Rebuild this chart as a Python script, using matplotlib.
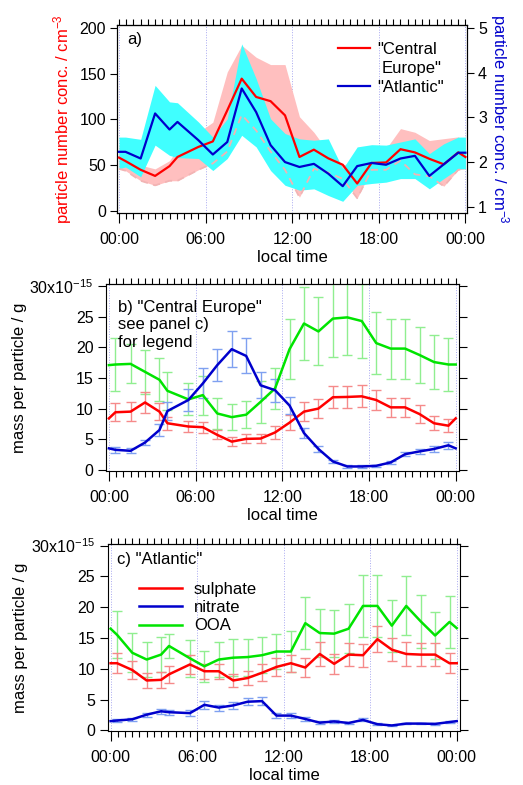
import matplotlib
matplotlib.use('Agg')
import matplotlib.pyplot as plt
import numpy as np
from matplotlib.ticker import MultipleLocator, NullFormatter

plt.rcParams['font.family'] = ['Liberation Sans', 'DejaVu Sans']
plt.rcParams['mathtext.default'] = 'regular'
plt.rcParams['axes.linewidth'] = 0.8

# time of day (hours), with wrap-around points at 0 and 24
hours = np.array([0, 0.45, 1.5, 2.5, 3.5, 4.05, 5.5, 6.5, 7.5, 8.5, 9.5, 10.5, 11.5,
                  12.5, 13.5, 14.5, 15.5, 16.5, 17.5, 18.5, 19.5, 20.5, 21.5, 22.5, 23.5, 24])

# panel a: particle number conc. (Central Europe on left axis, Atlantic on right axis)
ce_num = [58.3, 54.5, 45, 38.3, 49, 59, 70, 76, 110, 144.6, 124.6, 120, 104.5,
          59, 67, 57.5, 50.5, 30, 52.5, 53, 67.5, 64, 57, 51, 64, 59]
ce_hi = [71.8, 66, 50, 46, 55, 68, 86, 97, 152, 181, 168, 160, 160,
         103, 86, 64.5, 50, 55, 68, 68, 90, 86, 77, 79, 81, 72]
ce_lo = [46, 44, 33, 28, 33, 33, 45, 52, 65, 105, 88, 65, 45,
         15, 46, 42, 35, 14, 45, 45, 55, 40, 38, 27, 45, 46]
atl_num = [2.23, 2.23, 2.08, 3.09, 2.73, 2.9, 2.49, 2.17, 2.45, 3.65, 3.12, 2.38, 2.0,
           1.89, 1.96, 1.74, 1.46, 1.91, 1.98, 1.94, 2.08, 2.14, 1.69, 1.95, 2.21, 2.21]
atl_hi = [2.56, 2.56, 2.51, 3.72, 3.35, 3.33, 2.9, 2.56, 2.97, 4.65, 3.87, 2.97, 2.64,
          2.52, 2.49, 2.52, 1.85, 2.34, 2.39, 2.38, 2.45, 2.52, 2.19, 2.41, 2.56, 2.56]
atl_lo = [1.85, 1.89, 1.67, 2.38, 2.15, 2.1, 2.08, 1.81, 2.08, 2.6, 2.34, 1.81, 1.48,
          1.37, 1.4, 1.25, 1.12, 1.48, 1.52, 1.55, 1.63, 1.63, 1.4, 1.63, 1.85, 1.85]

# panel b: "Central Europe" mass per particle (x1e-15 g)
ce_so4 = [8.4, 9.4, 9.5, 11.0, 9.5, 7.6, 7.07, 6.96, 5.7, 4.6, 5.05, 5.1, 6.1,
          7.7, 9.5, 10.0, 11.85, 11.9, 12.0, 11.4, 10.2, 10.2, 9.1, 7.6, 7.2, 8.4]
ce_no3 = [3.5, 3.26, 3.1, 4.45, 6.5, 9.6, 11.4, 14.1, 17.1, 19.7, 18.6, 13.8, 13.0,
          10.5, 6.0, 3.4, 1.36, 0.54, 0.54, 0.65, 1.2, 2.55, 3.0, 3.4, 4.0, 3.5]
ce_ooa = [17.1, 17.2, 17.3, 16.0, 14.7, 12.9, 11.5, 12.2, 9.2, 8.6, 9.0, 11.1, 13.3,
          19.7, 23.9, 22.6, 24.7, 24.9, 24.3, 20.7, 19.8, 19.8, 18.75, 17.6, 17.2, 17.2]
# error bars only on the interior points
ce_so4_err = [1.45, 1.5, 1.65, 1.4, 1.1, 0.9, 0.9, 0.75, 0.75, 0.75, 0.8, 1.0,
              1.2, 1.5, 1.5, 1.8, 1.8, 1.8, 1.7, 1.5, 1.55, 1.45, 1.15, 1.1]
ce_no3_err = [0.45, 0.4, 0.45, 0.9, 1.5, 1.75, 2.45, 2.6, 2.95, 2.85, 2.1, 1.9,
              1.4, 0.85, 0.5, 0.3, 0.2, 0.2, 0.2, 0.3, 0.35, 0.35, 0.45, 0.6]
ce_ooa_err = [4.3, 3.2, 3.6, 3.5, 3.1, 2.6, 3.2, 2.6, 2.1, 2.2, 3.4, 3.4,
              4.9, 5.95, 5.55, 6.2, 6.2, 6.1, 5.1, 4.9, 4.9, 4.6, 4.35, 4.25]

# panel c: "Atlantic"
atl_so4 = [10.9, 10.9, 9.8, 8.1, 8.2, 9.1, 10.7, 9.6, 9.6, 8.1, 8.5, 9.35, 10.3,
           10.9, 10.2, 12.4, 10.8, 12.3, 12.2, 14.8, 13.1, 12.4, 12.3, 12.3, 10.9, 10.9]
atl_no3 = [1.5, 1.6, 1.8, 2.55, 3.1, 2.95, 2.8, 4.15, 3.7, 4.05, 4.65, 4.75, 2.4,
           2.4, 1.85, 1.25, 1.45, 1.2, 1.7, 1.0, 0.8, 1.1, 1.1, 1.05, 1.35, 1.5]
atl_ooa = [16.5, 15.5, 12.6, 11.5, 12.3, 13.7, 11.7, 10.4, 11.5, 11.8, 11.9, 12.2, 12.8,
           12.8, 17.4, 15.8, 15.7, 16.5, 20.2, 20.2, 17.0, 20.2, 17.7, 15.4, 17.6, 16.6]
atl_so4_err = [1.6, 1.5, 1.2, 1.3, 1.35, 1.5, 1.2, 1.2, 1.1, 1.2, 1.4, 1.5,
               1.4, 1.55, 1.9, 1.65, 1.9, 1.85, 2.15, 1.9, 2.0, 1.9, 1.9, 1.6]
atl_no3_err = [0.2, 0.2, 0.3, 0.45, 0.4, 0.5, 0.65, 0.5, 0.5, 0.6, 0.7, 0.35,
               0.35, 0.3, 0.2, 0.2, 0.15, 0.25, 0.15, 0.1, 0.1, 0.1, 0.1, 0.2]
atl_ooa_err = [3.8, 3.2, 2.8, 2.9, 2.0, 3.0, 2.5, 2.8, 3.0, 3.0, 2.9, 2.9,
               3.3, 4.25, 3.9, 3.8, 4.0, 5.0, 5.0, 4.2, 4.8, 4.3, 3.8, 4.2]

time_ticks = [0, 6, 12, 18, 24]
time_labels = ['00:00', '06:00', '12:00', '18:00', '00:00']
mass_ticks = [0, 5, 10, 15, 20, 25, 30]
mass_labels = ['0', '5', '10', '15', '20', '25', '30x10$^{-15}$']

RED, BLUE, GREEN = '#ff0000', '#0000cc', '#00e400'
RED_E, BLUE_E, GREEN_E = '#f58a8a', '#7fa0f0', '#90ee90'
FS_TICK, FS_LAB = 11.5, 12


def style_time_axis(ax, xlim):
    ax.set_xlim(*xlim)
    ax.set_xticks(time_ticks)
    ax.set_xticklabels(time_labels)
    ax.xaxis.set_minor_locator(MultipleLocator(0.5))
    ax.tick_params(axis='x', which='major', direction='out', length=7, width=0.8,
                   labelsize=FS_TICK, pad=7)
    ax.tick_params(axis='x', which='minor', direction='out', length=4, width=0.8)
    for h in time_ticks:
        ax.axvline(h, color='#a8a8f0', lw=0.7, ls=':', zorder=0)
    top = ax.secondary_xaxis('top')
    top.set_xticks(np.arange(0, 24.01, 0.5))
    top.xaxis.set_major_formatter(NullFormatter())
    top.tick_params(direction='out', length=4, width=0.8)
    ax.set_xlabel('local time', fontsize=FS_LAB, labelpad=2)


fig = plt.figure(figsize=(5.23, 7.85), dpi=100)

# ---- panel a
axa = fig.add_axes([0.2237, 0.7287, 0.669, 0.2395])
axa2 = axa.twinx()
axa.set_zorder(axa2.get_zorder() + 1)
axa.patch.set_visible(False)
axa.set_ylim(-2.2, 203.3)
axa2.set_ylim(0.859, 5.074)
axa.fill_between(hours, ce_lo, ce_hi, color='#ffbfbf', lw=0, zorder=1)
# cyan band / blue line belong to the right axis; map onto left-axis scale for layering
ya0, ya1 = axa.get_ylim()
yb0, yb1 = axa2.get_ylim()
to_left = lambda v: ya0 + (np.asarray(v) - yb0) * (ya1 - ya0) / (yb1 - yb0)
axa.fill_between(hours, to_left(atl_lo), to_left(atl_hi), color='#40ffff', lw=0, zorder=2)
axa.plot(hours, ce_lo, color='#f2b4b4', lw=1.3, ls=(0, (4, 3)), zorder=3)
axa.plot(hours, ce_num, color=RED, lw=1.6, zorder=5)
axa.plot(hours, to_left(atl_num), color=BLUE, lw=1.6, zorder=5)
style_time_axis(axa, (-0.14, 24.1))
axa.set_yticks([0, 50, 100, 150, 200])
axa.tick_params(axis='y', direction='out', length=5, width=0.8, labelsize=FS_TICK, pad=3)
axa2.set_yticks([1, 2, 3, 4, 5])
axa2.tick_params(axis='y', direction='out', length=5, width=0.8, labelsize=FS_TICK, pad=3)
axa.set_ylabel('particle number conc. / cm$^{-3}$', color=RED, fontsize=FS_LAB, labelpad=4)
axa2.set_ylabel('particle number conc. / cm$^{-3}$', color=BLUE, fontsize=FS_LAB,
                rotation=270, labelpad=17)
axa.text(0.03, 0.925, 'a)', transform=axa.transAxes, fontsize=FS_LAB, va='center')
# legend, drawn by hand so the red key sits on the first text line
for y, c in ((0.88, RED), (0.676, BLUE)):
    axa.plot([0.633, 0.724], [y, y], color=c, lw=1.6, transform=axa.transAxes, zorder=6)
axa.text(0.744, 0.88, '"Central', transform=axa.transAxes, fontsize=FS_LAB, va='center_baseline')
axa.text(0.756, 0.778, 'Europe"', transform=axa.transAxes, fontsize=FS_LAB, va='center_baseline')
axa.text(0.744, 0.676, '"Atlantic"', transform=axa.transAxes, fontsize=FS_LAB, va='center_baseline')


def mass_panel(rect, xlim, ylim, so4, no3, ooa, so4_err, no3_err, ooa_err):
    ax = fig.add_axes(rect)
    for vals, err, c in ((ooa, ooa_err, GREEN_E), (so4, so4_err, RED_E), (no3, no3_err, BLUE_E)):
        ax.errorbar(hours[1:-1], np.asarray(vals)[1:-1], yerr=err, fmt='none',
                    ecolor=c, elinewidth=1.0, capsize=3.5, capthick=1.0, zorder=2)
    ax.plot(hours, ooa, color=GREEN, lw=1.8, zorder=4, label='OOA')
    ax.plot(hours, so4, color=RED, lw=1.8, zorder=4, label='sulphate')
    ax.plot(hours, no3, color=BLUE, lw=1.8, zorder=4, label='nitrate')
    style_time_axis(ax, xlim)
    ax.set_ylim(*ylim)
    ax.set_yticks(mass_ticks)
    ax.set_yticklabels(mass_labels)
    ax.tick_params(axis='y', direction='out', length=6, width=0.8, labelsize=FS_TICK,
                   pad=3, right=True)
    ax.set_ylabel('mass per particle / g', fontsize=FS_LAB, labelpad=2)
    return ax


axb = mass_panel([0.2027, 0.40, 0.6755, 0.2378], (-0.2, 24.25), (-0.2, 30.3),
                 ce_so4, ce_no3, ce_ooa, ce_so4_err, ce_no3_err, ce_ooa_err)
axb.text(0.034, 0.916, 'b) "Central Europe"\nsee panel c)\nfor legend',
         transform=axb.transAxes, fontsize=FS_LAB, va='top', linespacing=1.2)

axc = mass_panel([0.206, 0.0688, 0.6736, 0.2378], (-0.2, 24.23), (-0.1, 30.2),
                 atl_so4, atl_no3, atl_ooa, atl_so4_err, atl_no3_err, atl_ooa_err)
axc.text(0.026, 0.916, 'c) "Atlantic"', transform=axc.transAxes, fontsize=FS_LAB, va='center')
h, l = axc.get_legend_handles_labels()
order = [1, 2, 0]
axc.legend([h[i] for i in order], [l[i] for i in order], loc='upper left',
           bbox_to_anchor=(0.07, 0.835), frameon=False, fontsize=FS_LAB,
           handlelength=2.6, handletextpad=0.7, labelspacing=0.2, borderaxespad=0)

fig.savefig('out.png', dpi=100)
